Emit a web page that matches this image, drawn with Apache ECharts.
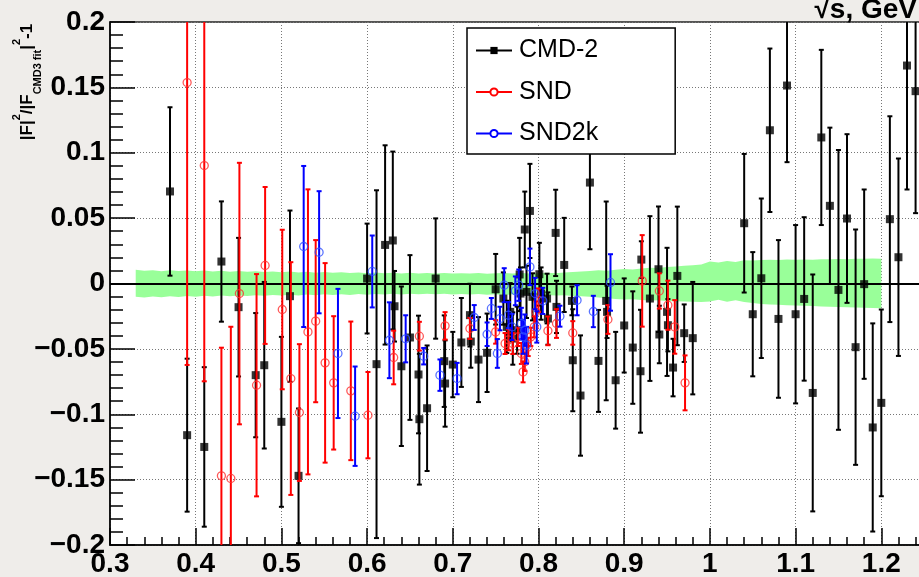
<!DOCTYPE html>
<html><head><meta charset="utf-8">
<script src="https://cdn.jsdelivr.net/npm/echarts@6/dist/echarts.min.js"></script>
<style>html,body{margin:0;padding:0;background:#efedea;overflow:hidden;width:919px;height:577px;}#c{width:967px;height:577px;}</style>
</head><body><div id="c"></div>
<script>
// ---- Data ----
const xTicks = [0.3,0.4,0.5,0.6,0.7,0.8,0.9,1.0,1.1,1.2];
const yTicks = [-0.2,-0.15,-0.1,-0.05,0,0.05,0.1,0.15,0.2];

const bandX = [0.33,0.34,0.35,0.36,0.37,0.38,0.39,0.40,
0.41,0.42,0.43,0.44,0.45,0.46,0.47,0.48,0.49,0.50,
0.51,0.52,0.53,0.54,0.55,0.56,0.57,0.58,0.59,0.60,
0.61,0.62,0.63,0.64,0.65,0.66,0.67,0.68,0.69,0.70,
0.71,0.72,0.73,0.74,0.75,0.76,0.77,0.78,0.79,0.80,
0.81,0.82,0.83,0.84,0.85,0.86,0.87,0.88,0.89,0.90,
0.91,0.92,0.93,0.94,0.95,0.96,0.97,0.98,0.99,1.00,
1.01,1.02,1.03,1.04,1.05,1.06,1.07,1.08,1.09,1.10,
1.11,1.12,1.13,1.14,1.15,1.16,1.17,1.18,1.19,1.20];
const bandHi = [0.0105,0.0098,0.0102,0.0094,0.0101,0.0096,0.0100,0.0093,
0.0099,0.0092,0.0097,0.0090,0.0095,0.0089,0.0094,0.0088,0.0092,0.0086,
0.0091,0.0085,0.0089,0.0083,0.0088,0.0082,0.0086,0.0080,0.0085,0.0079,
0.0084,0.0078,0.0083,0.0077,0.0082,0.0076,0.0081,0.0077,0.0080,0.0076,
0.0079,0.0076,0.0080,0.0075,0.0079,0.0081,0.0077,0.0080,0.0076,0.0079,
0.0082,0.0078,0.0085,0.0088,0.0092,0.0095,0.0102,0.0098,0.0105,0.0110,
0.0108,0.0115,0.0120,0.0118,0.0126,0.0130,0.0135,0.0140,0.0145,0.0168,
0.0160,0.0172,0.0165,0.0178,0.0175,0.0180,0.0182,0.0179,0.0183,0.0181,
0.0184,0.0182,0.0186,0.0185,0.0188,0.0186,0.0190,0.0189,0.0192,0.0190];
const bandLo = [-0.0102,-0.0108,-0.0099,-0.0105,-0.0097,-0.0103,-0.0095,-0.0101,
-0.0094,-0.0100,-0.0092,-0.0098,-0.0091,-0.0096,-0.0089,-0.0094,-0.0088,-0.0092,
-0.0086,-0.0091,-0.0085,-0.0089,-0.0083,-0.0088,-0.0082,-0.0087,-0.0081,-0.0086,
-0.0080,-0.0085,-0.0079,-0.0084,-0.0079,-0.0083,-0.0078,-0.0083,-0.0079,-0.0084,
-0.0080,-0.0085,-0.0081,-0.0086,-0.0082,-0.0087,-0.0083,-0.0088,-0.0085,-0.0090,
-0.0088,-0.0092,-0.0090,-0.0095,-0.0098,-0.0102,-0.0108,-0.0112,-0.0118,-0.0122,
-0.0120,-0.0126,-0.0130,-0.0128,-0.0133,-0.0135,-0.0138,-0.0140,-0.0142,-0.0138,
-0.0125,-0.0140,-0.0128,-0.0142,-0.0150,-0.0156,-0.0160,-0.0163,-0.0166,-0.0168,
-0.0171,-0.0173,-0.0175,-0.0177,-0.0179,-0.0181,-0.0183,-0.0185,-0.0187,-0.0189];

const cmdX = [0.370,0.390,0.410,0.430,0.450,0.470,0.480,0.500,0.510,0.520,
0.600,0.611,0.621,0.630,0.632,0.640,0.650,0.660,0.661,0.670,0.680,0.690,0.691,0.700,0.710,
0.720,0.721,0.730,0.740,0.750,0.759,0.763,0.767,0.770,0.775,0.778,0.779,0.784,0.786,0.790,0.793,0.801,0.803,0.810,0.811,0.820,0.821,0.830,
0.839,0.840,0.849,0.860,0.870,0.879,0.880,0.890,0.900,0.910,0.919,0.920,0.930,0.940,0.941,0.950,0.951,0.957,0.962,0.970,0.980,
1.04,1.05,1.06,1.07,1.08,1.09,1.10,1.11,1.12,1.13,1.14,1.15,1.16,1.17,1.18,1.19,1.20,1.21,1.22,1.23,1.24];
const cmdY = [0.0704,-0.116,-0.125,0.0168,-0.0181,-0.0701,-0.0625,-0.1058,-0.0097,-0.1471,
0.0038,-0.0617,0.0295,0.0329,-0.0174,-0.0633,-0.0413,-0.0696,-0.1038,-0.0954,0.0038,-0.0594,-0.0765,-0.062,-0.0451,
-0.0242,-0.0444,-0.0582,-0.053,-0.0044,-0.0115,-0.0332,-0.0217,-0.0421,-0.0357,0.0069,-0.0077,0.0413,-0.0064,0.0555,-0.0102,0.0071,-0.0077,-0.0115,-0.0268,0.0387,-0.0179,0.0142,
-0.0133,-0.0587,-0.0857,0.0772,-0.0592,-0.0133,-0.0217,-0.074,-0.0321,-0.049,-0.0671,0.0183,-0.0115,0.0109,-0.039,-0.0217,-0.0319,-0.0643,0.0058,-0.038,-0.0418,
0.0461,-0.0235,0.004,0.1172,-0.0271,0.1514,-0.0235,-0.0118,-0.0837,0.1117,0.0594,-0.0049,0.0497,-0.0487,-0.0005,-0.1101,-0.0913,0.0492,0.0201,0.1667,0.1471];
const cmdErr = [0.0644,0.0585,0.061,0.046,0.053,0.0475,0.0637,0.065,0.0655,0.0515,
0.042,0.133,0.0762,0.068,0.027,0.061,0.063,0.045,0.05,0.048,0.046,0.035,0.033,0.025,0.034,
0.024,0.02,0.0325,0.03,0.027,0.02,0.02,0.022,0.02,0.018,0.028,0.02,0.029,0.02,0.036,0.018,0.024,0.02,0.019,0.02,0.033,0.02,0.036,
0.011,0.039,0.046,0.051,0.039,0.076,0.02,0.037,0.036,0.043,0.047,0.014,0.063,0.048,0.022,0.049,0.02,0.022,0.053,0.022,0.043,
0.053,0.0475,0.061,0.0625,0.0603,0.0586,0.0682,0.0625,0.0906,0.067,0.0598,0.107,0.0645,0.09,0.0724,0.0796,0.0714,0.0787,0.0755,0.0948,0.0933];

const sndX = [0.390,0.410,0.430,0.441,0.451,0.471,0.481,0.501,0.511,0.521,0.531,0.540,0.551,0.561,0.581,0.601,0.631,0.661,0.691,0.720,0.750,0.761,0.765,0.770,0.776,0.780,0.782,0.784,0.788,0.791,0.795,0.797,0.800,0.811,0.821,0.840,0.881,0.921,0.941,0.951,0.959,0.971];
const sndY = [0.1537,0.0902,-0.1471,-0.1491,-0.0077,-0.0778,0.0138,-0.0199,-0.0727,-0.0987,-0.037,-0.0288,-0.0607,-0.076,-0.0821,-0.1007,-0.0566,-0.0403,-0.0324,-0.0344,-0.037,-0.0459,-0.0431,-0.0459,-0.0408,-0.0535,-0.0676,-0.0599,-0.0485,-0.0408,-0.0332,-0.0217,-0.0128,-0.0362,-0.0306,-0.0378,-0.0275,0.002,-0.0057,-0.0166,-0.0332,-0.076];
const sndErr = [0.216,0.165,0.098,0.116,0.1,0.085,0.06,0.061,0.089,0.0523,0.109,0.062,0.0763,0.051,0.053,0.033,0.0205,0.011,0.0105,0.008,0.009,0.008,0.008,0.008,0.007,0.008,0.008,0.007,0.007,0.007,0.008,0.008,0.009,0.011,0.011,0.009,0.011,0.035,0.0135,0.0188,0.0205,0.021];

const snd2kX = [0.526,0.544,0.566,0.586,0.606,0.626,0.645,0.666,0.685,0.705,0.725,0.740,0.745,0.752,0.755,0.760,0.765,0.769,0.773,0.777,0.780,0.782,0.784,0.786,0.790,0.796,0.798,0.805,0.825,0.845,0.864,0.884];
const snd2kY = [0.0283,0.0239,-0.0535,-0.1015,0.0092,-0.0434,-0.0423,-0.0556,-0.0701,-0.0727,-0.026,-0.0388,-0.0191,-0.0535,-0.0268,-0.0013,-0.0242,-0.0332,-0.0056,-0.0013,-0.0306,-0.0408,-0.0357,-0.0472,0.0127,-0.0077,-0.0332,-0.0133,-0.025,-0.0128,-0.0214,0.0008];
const snd2kErr = [0.0616,0.0467,0.0494,0.038,0.0275,0.029,0.018,0.0063,0.012,0.012,0.0095,0.009,0.008,0.011,0.009,0.013,0.01,0.01,0.011,0.012,0.012,0.013,0.012,0.014,0.014,0.012,0.012,0.01,0.008,0.0115,0.012,0.0216];

const legendNames = ['CMD-2','SND','SND2k'];
const xTitle = '\u221As, GeV';

// ---- Build ----
const FONT = 'Liberation Sans';
const zip2 = (x,y) => x.map((v,i)=>[v,y[i]]);
const zip3 = (x,y,e) => x.map((v,i)=>[v,y[i],e[i]]);

function errBars(color, cap, lw) {
  return function(params, api) {
    const x = api.value(0), y = api.value(1), e = api.value(2);
    const t = api.coord([x, y + e]), b = api.coord([x, y - e]);
    const st = {stroke: color, lineWidth: lw};
    return {type:'group', children:[
      {type:'line', shape:{x1:t[0], y1:t[1], x2:b[0], y2:b[1]}, style:st},
      {type:'line', shape:{x1:t[0]-cap, y1:t[1], x2:t[0]+cap, y2:t[1]}, style:st},
      {type:'line', shape:{x1:b[0]-cap, y1:b[1], x2:b[0]+cap, y2:b[1]}, style:st}
    ]};
  };
}
function errSeries(name, data, color, z) {
  return {name:name, type:'custom', data:data, clip:true, z:z, silent:true,
    dimensions:['x','y','e'], encode:{x:0, y:1},
    renderItem: errBars(color, 2.5, 2)};
}
function ptSeries(name, data, z, symbol, style) {
  return {name:name, type:'scatter', data:data, z:z, symbol:symbol, symbolSize:8, itemStyle:style, silent:true, clip:true};
}

const tickLabel = {color:'#000', fontSize:28, fontWeight:'bold', fontFamily:FONT};
const option = {
  animation:false,
  backgroundColor:'#efedea',
  grid:{left:110, top:22, right:0, bottom:32, outerBoundsMode:'none', containLabel:false, show:true, backgroundColor:'#fff', borderColor:'#222', borderWidth:1.5},
  xAxis:{type:'value', min:xTicks[0], max:1.3, interval:0.1,
    axisLine:{onZero:false, lineStyle:{color:'#000', width:1.5}},
    axisTick:{inside:true, length:17, lineStyle:{color:'#000', width:1.5}},
    minorTick:{show:true, splitNumber:5, length:8, lineStyle:{color:'#000', width:1.5}},
    splitLine:{show:true, lineStyle:{color:'#777', type:[1,2], width:1}},
    axisLabel:Object.assign({margin:5, formatter:v=>String(Math.round(v*10)/10)}, tickLabel)},
  yAxis:{type:'value', min:yTicks[0], max:yTicks[yTicks.length-1], interval:0.05,
    axisLine:{onZero:false, lineStyle:{color:'#000', width:1.5}},
    axisTick:{inside:true, length:25, lineStyle:{color:'#000', width:1.5}},
    minorTick:{show:true, splitNumber:5, length:13, lineStyle:{color:'#000', width:1.5}},
    splitLine:{show:true, lineStyle:{color:'#777', type:[1,2], width:1}},
    axisLabel:Object.assign({margin:5, formatter:v=>String(Math.round(v*100)/100).replace('-', '\u2212')}, tickLabel)},
  legend:{orient:'vertical', left:467, top:28, padding:[10,77,8,8], itemGap:16.5, itemWidth:36, itemHeight:9,
    backgroundColor:'#fff', borderColor:'#000', borderWidth:1.5, selectedMode:false,
    textStyle:{fontSize:25, fontFamily:FONT, color:'#000', padding:[0,0,0,2]}, data:legendNames, z:20},
  graphic:[
    {type:'text', x:27, y:82, rotation:Math.PI/2, z:100,
      style:{text:'{m||F|}{sp|2}{m|/|F}{sb|CMD3 fit}{m||}{sp|2}{m|-1}',
        align:'center', verticalAlign:'middle', textAlign:'center', textVerticalAlign:'middle',
        rich:{m:{fontSize:17, fontWeight:'bold', fontFamily:FONT, lineHeight:32, fill:'#000'},
              sp:{fontSize:11, fontWeight:'bold', fontFamily:FONT, lineHeight:12, verticalAlign:'top', fill:'#000'},
              sb:{fontSize:11, fontWeight:'bold', fontFamily:FONT, lineHeight:12, verticalAlign:'bottom', fill:'#000'}}}},
    {type:'text', x:917, y:10, z:100,
      style:{text:xTitle, font:'bold 28px "Liberation Sans"', fill:'#000', align:'right', verticalAlign:'middle', textAlign:'right', textVerticalAlign:'middle'}}
  ],
  series:[
    {name:legendNames[0], type:'line', data:[], symbol:'rect', symbolSize:8, itemStyle:{color:'#000'}, lineStyle:{color:'#000', width:1.5}},
    {name:legendNames[1], type:'line', data:[], symbol:'emptyCircle', symbolSize:8, itemStyle:{color:'#ff0000'}, lineStyle:{color:'#ff0000', width:1.5}},
    {name:legendNames[2], type:'line', data:[], symbol:'emptyCircle', symbolSize:8, itemStyle:{color:'#0000ff'}, lineStyle:{color:'#0000ff', width:1.5}},
    {name:'bandHi', type:'line', data:zip2(bandX, bandHi), showSymbol:false, symbol:'none', z:1, silent:true,
      lineStyle:{width:0}, areaStyle:{color:'#99ff99', opacity:1, origin:0},
      markLine:{z:2, silent:true, symbol:['none','none'], label:{show:false},
        lineStyle:{color:'#000', width:2, type:'solid'}, data:[{yAxis:0}]}},
    {name:'bandLo', type:'line', data:zip2(bandX, bandLo), showSymbol:false, symbol:'none', z:1, silent:true,
      lineStyle:{width:0}, areaStyle:{color:'#99ff99', opacity:1, origin:0}},
    errSeries('cmdErr', zip3(cmdX, cmdY, cmdErr), '#000', 5),
    ptSeries('cmdPts', zip2(cmdX, cmdY), 6, 'rect', {color:'#000'}),
    errSeries('sndErr', zip3(sndX, sndY, sndErr), '#ff0000', 7),
    ptSeries('sndPts', zip2(sndX, sndY), 8, 'circle', {color:'rgba(0,0,0,0)', borderColor:'#ff3030', borderWidth:1.3}),
    errSeries('snd2kErr', zip3(snd2kX, snd2kY, snd2kErr), '#0000ff', 9),
    ptSeries('snd2kPts', zip2(snd2kX, snd2kY), 10, 'circle', {color:'rgba(0,0,0,0)', borderColor:'#3050ff', borderWidth:1.3})
  ]
};
const chart = echarts.init(document.getElementById('c'), null, {renderer:'canvas'});
chart.setOption(option);
</script>
</body></html>
